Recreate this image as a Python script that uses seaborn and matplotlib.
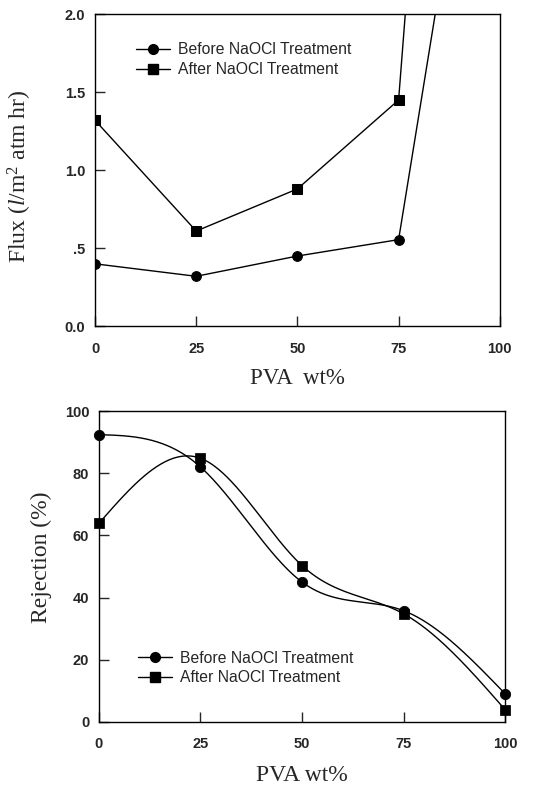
import numpy as np
import pandas as pd
import seaborn as sns
import matplotlib.pyplot as plt
from matplotlib.lines import Line2D

# data
pva = [0, 25, 50, 75, 100]
flux_before = [0.40, 0.32, 0.45, 0.555, 4.55]
flux_after = [1.32, 0.61, 0.88, 1.45, 9.8]
rej_before = [92.4, 82.0, 45.0, 35.8, 9.1]
rej_after = [63.9, 84.8, 50.3, 34.8, 4.0]
labels = ['Before NaOCl Treatment', 'After NaOCl Treatment']

sns.set_style('ticks')
plt.rcParams['font.family'] = ['Liberation Sans', 'DejaVu Sans']
plt.rcParams['mathtext.fontset'] = 'custom'
plt.rcParams['mathtext.rm'] = 'Liberation Serif'
plt.rcParams['mathtext.it'] = 'Liberation Serif:italic'


def natural_spline(x, y, xs):
    # natural cubic spline through the points, only used to draw the smooth line
    x = np.asarray(x, float)
    y = np.asarray(y, float)
    n = len(x)
    h = np.diff(x)
    A = np.zeros((n, n))
    r = np.zeros(n)
    A[0, 0] = A[-1, -1] = 1
    for i in range(1, n - 1):
        A[i, i - 1] = h[i - 1]
        A[i, i] = 2 * (h[i - 1] + h[i])
        A[i, i + 1] = h[i]
        r[i] = 3 * ((y[i + 1] - y[i]) / h[i] - (y[i] - y[i - 1]) / h[i - 1])
    c = np.linalg.solve(A, r)
    out = np.zeros_like(xs)
    for j, xv in enumerate(xs):
        i = min(np.searchsorted(x, xv, side='right') - 1, n - 2)
        i = max(i, 0)
        b = (y[i + 1] - y[i]) / h[i] - h[i] * (2 * c[i] + c[i + 1]) / 3
        d = (c[i + 1] - c[i]) / (3 * h[i])
        t = xv - x[i]
        out[j] = y[i] + b * t + c[i] * t ** 2 + d * t ** 3
    return out


fig = plt.figure(figsize=(5.38, 7.88), dpi=100)
ax1 = fig.add_axes([0.1766, 0.586, 0.7524, 0.396])
ax2 = fig.add_axes([0.184, 0.0838, 0.7547, 0.3946])

tick_font = {'family': 'Liberation Sans', 'weight': 'bold', 'size': 10.5}
label_font = {'family': 'Liberation Serif', 'size': 17}

# top panel: flux
df_flux = pd.DataFrame({'pva': pva, 'before': flux_before, 'after': flux_after})
sns.lineplot(data=df_flux, x='pva', y='before', ax=ax1, color='black', lw=1,
             marker='o', markersize=7, markeredgecolor='black')
sns.lineplot(data=df_flux, x='pva', y='after', ax=ax1, color='black', lw=1,
             marker='s', markersize=6.5, markeredgecolor='black')
ax1.set_xlim(0, 100)
ax1.set_ylim(0, 2.0)
ax1.set_xticks(pva)
ax1.set_yticks([0, 0.5, 1.0, 1.5, 2.0])
ax1.set_yticklabels(['0.0', '.5', '1.0', '1.5', '2.0'], fontdict=tick_font)
ax1.set_xticklabels([str(v) for v in pva], fontdict=tick_font)
ax1.set_xlabel('PVA  wt%', fontdict=dict(label_font, size=16.5))
ax1.set_ylabel(r'Flux ($\mathit{l}$/m$^2$ atm hr)', fontdict=label_font)
ax1.xaxis.set_label_coords(0.5, -0.135)
ax1.yaxis.set_label_coords(-0.15, 0.48)

# bottom panel: rejection with smooth curves
xs = np.linspace(0, 100, 400)
ax2.plot(xs, natural_spline(pva, rej_before, xs), color='black', lw=1)
ax2.plot(xs, natural_spline(pva, rej_after, xs), color='black', lw=1)
sns.scatterplot(x=pva, y=rej_before, ax=ax2, color='black', marker='o', s=55,
                edgecolor='black', clip_on=False, zorder=3)
sns.scatterplot(x=pva, y=rej_after, ax=ax2, color='black', marker='s', s=45,
                edgecolor='black', clip_on=False, zorder=3)
ax2.set_xlim(0, 100)
ax2.set_ylim(0, 100)
ax2.set_xticks(pva)
ax2.set_yticks([0, 20, 40, 60, 80, 100])
ax2.set_xticklabels([str(v) for v in pva], fontdict=tick_font)
ax2.set_yticklabels([str(v) for v in [0, 20, 40, 60, 80, 100]], fontdict=tick_font)
ax2.set_xlabel('PVA wt%', fontdict=label_font)
ax2.set_ylabel('Rejection (%)', fontdict=label_font)
ax2.xaxis.set_label_coords(0.5, -0.14)
ax2.yaxis.set_label_coords(-0.115, 0.53)

handles = [Line2D([], [], color='black', lw=1, marker='o', markersize=7),
           Line2D([], [], color='black', lw=1, marker='s', markersize=6.5)]
for ax, anchor in [(ax1, (0.085, 0.93)), (ax2, (0.08, 0.25))]:
    ax.legend(handles, labels, loc='upper left', bbox_to_anchor=anchor, frameon=False,
              fontsize=11.3, handlelength=2.2, handletextpad=0.5, labelspacing=0.3,
              borderaxespad=0)
    ax.tick_params(direction='in', length=7, width=1, pad=7, top=False, right=False)
    ax.tick_params(axis='x', pad=11)
    for sp in ax.spines.values():
        sp.set_visible(True)
        sp.set_linewidth(1)
        sp.set_color('black')

fig.savefig('out.png', dpi=100)
